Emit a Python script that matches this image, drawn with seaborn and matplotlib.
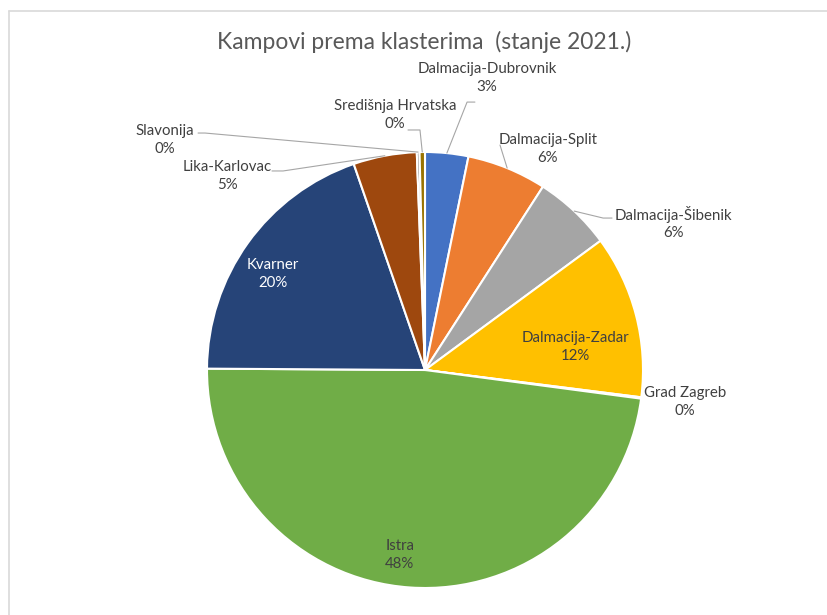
import numpy as np
import matplotlib
matplotlib.use("Agg")
import matplotlib.pyplot as plt
import seaborn as sns
from matplotlib.lines import Line2D


# Share of campsites per cluster (%), clockwise from 12 o'clock
clusters = ['Dalmacija-Dubrovnik', 'Dalmacija-Split', 'Dalmacija-Šibenik',
            'Dalmacija-Zadar', 'Grad Zagreb', 'Istra', 'Kvarner',
            'Lika-Karlovac', 'Slavonija', 'Središnja Hrvatska']
shares = [3.2, 5.9, 5.8, 12.1, 0.1, 48.0, 19.6, 4.7, 0.2, 0.4]
colors = ['#4472C4', '#ED7D31', '#A5A5A5', '#FFC000', '#5B9BD5',
          '#70AD47', '#264478', '#9E480E', '#636363', '#997300']

# label centre in pie-radius units, text colour
label_pos = {
    'Dalmacija-Dubrovnik': ((0.284, 1.34), '#404040'),
    'Dalmacija-Split': ((0.564, 1.014), '#404040'),
    'Dalmacija-Šibenik': ((1.138, 0.674), '#404040'),
    'Dalmacija-Zadar': ((0.688, 0.106), '#404040'),
    'Grad Zagreb': ((1.193, -0.147), '#404040'),
    'Istra': ((-0.115, -0.849), '#404040'),
    'Kvarner': ((-0.697, 0.44), 'white'),
    'Lika-Karlovac': ((-0.908, 0.89), '#404040'),
    'Slavonija': ((-1.193, 1.055), '#404040'),
    'Središnja Hrvatska': ((-0.138, 1.17), '#404040'),
}
# leader lines: elbow point, attach point next to the label
leaders = {
    'Dalmacija-Dubrovnik': ((0.193, 1.229), (0.229, 1.229)),
    'Dalmacija-Split': ((0.344, 1.032), (0.344, 1.032)),
    'Dalmacija-Šibenik': ((0.817, 0.697), (0.858, 0.697)),
    'Lika-Karlovac': ((-0.651, 0.913), (-0.702, 0.913)),
    'Slavonija': ((-1.009, 1.087), (-1.041, 1.087)),
    'Središnja Hrvatska': ((-0.023, 1.101), (-0.078, 1.101)),
}


sns.set_theme(style='white')
plt.rcParams['font.family'] = ['Lato', 'DejaVu Sans']

fig = plt.figure(figsize=(8.28, 6.15), dpi=100)
ax = fig.add_axes([207/828, 27/615, 436/828, 436/615])

wedges, _ = ax.pie(shares, colors=colors, startangle=90, counterclock=False,
                   wedgeprops=dict(edgecolor='white', linewidth=1.5))
ax.set_xlim(-1, 1)
ax.set_ylim(-1, 1)
ax.set_aspect('equal')
ax.axis('off')

for name, share, w in zip(clusters, shares, wedges):
    (lx, ly), tc = label_pos[name]
    ax.text(lx, ly, '%s\n%.0f%%' % (name, share), ha='center', va='center',
            fontsize=10.8, color=tc, linespacing=1.3)
    if name in leaders:
        mid = np.deg2rad((w.theta1 + w.theta2) / 2)
        (ex, ey), (tx, ty) = leaders[name]
        ax.plot([np.cos(mid), ex, tx], [np.sin(mid), ey, ty],
                color='#A6A6A6', lw=0.8, clip_on=False)

fig.text(0.512, 1 - 42/615, 'Kampovi prema klasterima  (stanje 2021.)',
         ha='center', va='center', fontsize=16.5, color='#595959')

# chart area border
fig.add_artist(Line2D([8.5/828, 1], [1 - 10.5/615] * 2, color='#D9D9D9', lw=1.2))
fig.add_artist(Line2D([8.5/828] * 2, [0, 1 - 10.5/615], color='#D9D9D9', lw=1.2))

fig.savefig('out.png', dpi=100)
